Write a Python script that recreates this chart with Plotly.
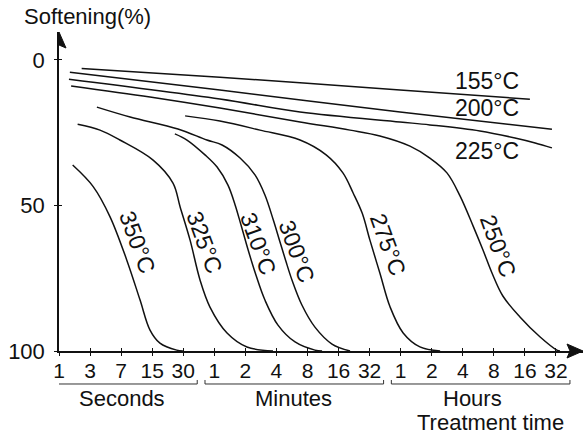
import plotly.graph_objects as go

# ---------------- data ----------------
# x is the index of the log-spaced time tick (0..16); y is softening in %
x_tick_labels = ["1", "3", "7", "15", "30",
                 "1", "2", "4", "8", "16", "32",
                 "1", "2", "4", "8", "16", "32"]
time_groups = ["Seconds", "Minutes", "Hours"]
group_first = [0, 5, 11]
group_last = [4, 10, 16]
y_ticks = [0, 50, 100]

x155 = [0.73, 5.18, 10.98, 15.16]
y155 = [2.9, 5.9, 10.3, 13.5]

x200 = [0.35, 5.18, 10.98, 15.87]
y200 = [4.2, 10.3, 17.9, 23.8]

x225 = [0.32, 5.18, 7.76, 10.98, 11.94, 13.55, 14.68, 15.33, 15.87]
y225 = [6.6, 13.4, 17.9, 21.3, 22.3, 24.4, 26.8, 28.5, 30.2]

x250 = [0.39, 2.93, 5.18, 7.76, 9.37, 10.33, 11.30, 11.94, 12.49, 12.91,
        13.33, 13.65, 13.94, 14.29, 14.84, 15.49, 16.03, 16.13]
y250 = [8.9, 12.7, 16.5, 21.3, 24.1, 26.1, 29.6, 33.7, 38.8, 46.7,
        57.0, 65.3, 73.2, 81.1, 88.3, 95.2, 99.7, 100]

x275 = [4.06, 5.18, 6.47, 7.76, 8.60, 9.14, 9.47, 9.76, 10.01, 10.33,
        10.66, 11.08, 11.62, 12.27]
y275 = [19.2, 21.0, 24.1, 27.5, 32.6, 38.8, 45.7, 52.6, 61.9, 73.2,
        84.9, 93.8, 98.6, 100]

x300 = [1.22, 2.29, 3.83, 4.76, 5.25, 5.83, 6.31, 6.63, 6.90, 7.10,
        7.30, 7.50, 7.82, 8.24, 8.79, 9.37]
y300 = [16.2, 19.6, 23.7, 27.5, 29.2, 33.7, 39.5, 46.4, 55.0, 62.0,
        69.0, 75.6, 84.2, 91.8, 97.6, 100]

x310 = [3.73, 4.12, 4.70, 5.09, 5.44, 5.67, 5.86, 6.09, 6.34, 6.63,
        7.05, 7.60, 8.24, 8.47]
y310 = [25.4, 27.5, 32.6, 36.8, 43.0, 49.8, 56.7, 65.3, 73.9, 82.5,
        91.1, 96.9, 99.7, 100]

x325 = [0.60, 1.32, 1.96, 3.03, 3.67, 3.90, 4.22, 4.54, 4.86, 5.41,
        6.05, 6.89]
y325 = [22.1, 24.1, 27.5, 34.4, 42.3, 50.5, 61.9, 75.6, 84.9, 93.8,
        98.6, 100]

x350 = [0.44, 1.10, 1.64, 2.18, 2.61, 2.93, 3.25, 3.79, 3.99]
y350 = [36.1, 43.5, 53.8, 68.7, 82.5, 92.8, 97.3, 99.7, 100]

curve_names = ["155°C", "200°C", "225°C", "250°C", "275°C",
               "300°C", "310°C", "325°C", "350°C"]
curve_x = [x155, x200, x225, x250, x275, x300, x310, x325, x350]
curve_y = [y155, y200, y225, y250, y275, y300, y310, y325, y350]

# label placement (data coordinates) and rotation
label_x = [13.78, 13.78, 13.78, 14.14, 10.58, 7.65, 6.42, 4.67, 2.53]
label_y = [7.2, 16.5, 31.3, 63.9, 63.3, 65.6, 63.2, 62.7, 62.4]
label_angle = [0, 0, 0, 70, 70, 70, 70, 70, 70]

# ---------------- figure ----------------
FONT = "Liberation Sans, Arial, Helvetica, sans-serif"
INK = "#111111"

fig = go.Figure()
for name, xs, ys in zip(curve_names, curve_x, curve_y):
    fig.add_trace(go.Scatter(
        x=xs, y=ys, mode="lines", name=name,
        line=dict(color=INK, width=1.5, shape="spline", smoothing=1.0),
        showlegend=False, hoverinfo="skip", cliponaxis=False))

# empty trace on overlay axes that draw the inner half of the crossing ticks
fig.add_trace(go.Scatter(x=[None], y=[None], xaxis="x2", yaxis="y2",
                         showlegend=False, hoverinfo="skip"))

n_ticks = len(x_tick_labels)
x_range = [0, 16.87]
y_range = [100, -9.62]

fig.update_layout(
    template="none",
    width=583, height=435, autosize=False,
    margin=dict(l=59, r=0, t=32, b=84, pad=0),
    paper_bgcolor="white", plot_bgcolor="white",
    font=dict(family=FONT, size=22, color=INK),
    xaxis=dict(
        range=x_range, showgrid=False, zeroline=False, automargin=False,
        showline=True, linecolor=INK, linewidth=1.5,
        tickmode="array", tickvals=list(range(n_ticks)), ticktext=x_tick_labels,
        ticks="outside", ticklen=3, tickwidth=1, tickcolor=INK,
        ticklabelstandoff=-3,
        tickfont=dict(family=FONT, size=21, color=INK)),
    yaxis=dict(
        range=y_range, showgrid=False, zeroline=False, automargin=False,
        showline=True, linecolor=INK, linewidth=1.5,
        tickmode="array", tickvals=y_ticks, ticktext=[str(v) for v in y_ticks],
        ticks="outside", ticklen=3, tickwidth=1, tickcolor=INK,
        ticklabelstandoff=5,
        tickfont=dict(family=FONT, size=22, color=INK)),
    xaxis2=dict(overlaying="x", anchor="y2", range=x_range, showgrid=False,
                zeroline=False, showline=False, showticklabels=False,
                automargin=False,
                tickmode="array", tickvals=list(range(n_ticks)),
                ticks="inside", ticklen=3, tickwidth=1, tickcolor=INK),
    yaxis2=dict(overlaying="y", anchor="x2", range=y_range, showgrid=False,
                zeroline=False, showline=False, showticklabels=False,
                automargin=False,
                tickmode="array", tickvals=y_ticks,
                ticks="inside", ticklen=3, tickwidth=1, tickcolor=INK),
)

# curve labels
for name, lx, ly, ang in zip(curve_names, label_x, label_y, label_angle):
    fig.add_annotation(x=lx, y=ly, xref="x", yref="y", text=name,
                       showarrow=False, textangle=ang,
                       xanchor="center", yanchor="middle",
                       font=dict(family=FONT, size=23, color=INK))

# axis title and group labels
fig.add_annotation(x=-0.0706, y=1.05, xref="paper", yref="paper",
                   text="Softening(%)", showarrow=False,
                   xanchor="left", yanchor="middle",
                   font=dict(family=FONT, size=22, color=INK))

group_label_x = [0.1198, 0.448, 0.790]
for g, gx in zip(time_groups, group_label_x):
    fig.add_annotation(x=gx, y=-0.148, xref="paper", yref="paper", text=g,
                       showarrow=False, xanchor="center", yanchor="middle",
                       font=dict(family=FONT, size=22, color=INK))
fig.add_annotation(x=0.824, y=-0.224, xref="paper", yref="paper",
                   text="Treatment time", showarrow=False,
                   xanchor="center", yanchor="middle",
                   font=dict(family=FONT, size=22, color=INK))

# group brackets under the tick labels
for a, b in zip(group_first, group_last):
    lo, hi = a - 0.3, b + 0.45
    fig.add_shape(type="path", xref="x", yref="paper",
                  path=f"M {lo},-0.0909 L {lo},-0.1034 L {hi},-0.1034 L {hi},-0.0909",
                  line=dict(color="#333333", width=1))

# arrow heads at the ends of both axes
fig.add_shape(type="path", xref="x", yref="paper",
              xsizemode="pixel", ysizemode="pixel", xanchor=0, yanchor=1,
              path="M -7,-16 L 0,0 L 7,-16 L 0,-13 Z",
              fillcolor=INK, line=dict(color=INK, width=1))
fig.add_shape(type="path", xref="paper", yref="paper",
              xsizemode="pixel", ysizemode="pixel", xanchor=1, yanchor=0,
              path="M -16,7 L 0,0 L -16,-7 L -13,0 Z",
              fillcolor=INK, line=dict(color=INK, width=1))

fig.write_html("out.html")
